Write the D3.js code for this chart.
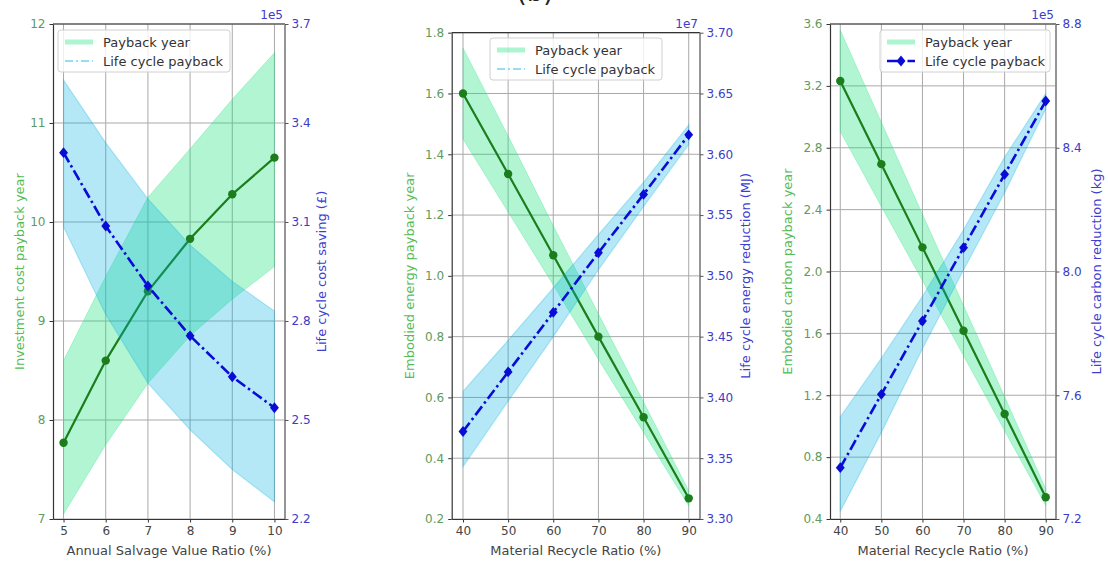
<!DOCTYPE html>
<html>
<head>
<meta charset="utf-8">
<script src="https://cdn.jsdelivr.net/npm/d3@7"></script>
<style>
  html, body { margin: 0; padding: 0; background: #fff; }
  svg { display: block; }
  text { font-family: "DejaVu Sans", sans-serif; }
</style>
</head>
<body>
<svg id="chart" width="1108" height="563"></svg>
<script>
// ---- (a) salvage value ratio vs. investment cost payback / life cycle saving ----
const salvageRatio = [5, 6, 7, 8, 9, 10];
const costPayback = [7.77, 8.60, 9.30, 9.83, 10.28, 10.65];
const costPaybackUpper = [8.60, 9.45, 10.25, 10.74, 11.24, 11.71];
const costPaybackLower = [7.05, 7.75, 8.37, 8.85, 9.22, 9.55];
// life cycle cost saving, in units of 1e5
const costSaving = [3.31, 3.088, 2.906, 2.755, 2.631, 2.537];
const costSavingUpper = [3.53, 3.34, 3.17, 3.03, 2.92, 2.83];
const costSavingLower = [3.085, 2.82, 2.612, 2.47, 2.35, 2.252];

// ---- (b) material recycle ratio vs. embodied energy ----
const recycleRatio = [40, 50, 60, 70, 80, 90];
const energyPayback = [1.60, 1.335, 1.068, 0.80, 0.535, 0.268];
const energyPaybackUpper = [1.75, 1.46, 1.165, 0.875, 0.585, 0.293];
const energyPaybackLower = [1.45, 1.21, 0.97, 0.725, 0.485, 0.243];
// life cycle energy reduction, in units of 1e7
const energyReduction = [3.372, 3.421, 3.470, 3.519, 3.567, 3.616];
const energyReductionUpper = [3.405, 3.447, 3.490, 3.534, 3.577, 3.624];
const energyReductionLower = [3.343, 3.397, 3.450, 3.505, 3.557, 3.608];

// ---- (c) material recycle ratio vs. embodied carbon ----
const carbonPayback = [3.232, 2.694, 2.156, 1.617, 1.079, 0.541];
const carbonPaybackUpper = [3.56, 2.965, 2.37, 1.78, 1.19, 0.595];
const carbonPaybackLower = [2.905, 2.42, 1.94, 1.455, 0.97, 0.487];
// life cycle carbon reduction, in units of 1e5
const carbonReduction = [7.366, 7.603, 7.840, 8.077, 8.314, 8.551];
const carbonReductionUpper = [7.53, 7.72, 7.92, 8.135, 8.37, 8.575];
const carbonReductionLower = [7.225, 7.48, 7.75, 8.005, 8.255, 8.525];

// tick values
const ticksSalvage = [5, 6, 7, 8, 9, 10];
const ticksRecycle = [40, 50, 60, 70, 80, 90];
const ticksCostPayback = [7, 8, 9, 10, 11, 12];
const ticksCostSaving = [2.2, 2.5, 2.8, 3.1, 3.4, 3.7];
const ticksEnergyPayback = [0.2, 0.4, 0.6, 0.8, 1.0, 1.2, 1.4, 1.6, 1.8];
const ticksEnergyReduction = [3.30, 3.35, 3.40, 3.45, 3.50, 3.55, 3.60, 3.65, 3.70];
const ticksCarbonPayback = [0.4, 0.8, 1.2, 1.6, 2.0, 2.4, 2.8, 3.2, 3.6];
const ticksCarbonReduction = [7.2, 7.6, 8.0, 8.4, 8.8];

const svg = d3.select("#chart");

const C = {
  greenFill: "rgb(20,225,120)",
  greenFillOpacity: 0.33,
  blueFill: "rgb(0,175,225)",
  blueFillOpacity: 0.29,
  greenLine: "#1b7d1b",
  blueLine: "#0b0bd6",
  grid: "#a9a9a9",
  leftTick: "#5f9a5f",
  leftLabel: "#55bb55",
  rightTick: "#3c3cc8",
  rightLabel: "#3d3dd0",
  xTick: "#444",
  spine: "#333"
};

// panel title, sitting above the top edge
svg.append("text").attr("x", 535).attr("y", 1).attr("text-anchor", "middle")
  .attr("font-size", 26).attr("fill", "#222").text("(b)");

function drawPanel(p) {
  const x = d3.scaleLinear().domain(p.xDomain).range([p.left, p.right]);
  const yL = d3.scaleLinear().domain(p.yLDomain).range([p.bottom, p.top]);
  const yR = d3.scaleLinear().domain(p.yRDomain).range([p.bottom, p.top]);
  const g = svg.append("g");

  // grid
  g.append("g").selectAll("line").data(p.xTicks).join("line")
    .attr("x1", d => x(d)).attr("x2", d => x(d))
    .attr("y1", p.top).attr("y2", p.bottom)
    .attr("stroke", C.grid).attr("stroke-width", 1);
  g.append("g").selectAll("line").data(p.yLTicks).join("line")
    .attr("x1", p.left).attr("x2", p.right)
    .attr("y1", d => yL(d)).attr("y2", d => yL(d))
    .attr("stroke", C.grid).attr("stroke-width", 1);

  const idx = d3.range(p.xs.length);

  // primary: payback year band and line
  const areaL = d3.area().x(i => x(p.xs[i]))
    .y0(i => yL(p.lLower[i])).y1(i => yL(p.lUpper[i]));
  g.append("path").attr("d", areaL(idx))
    .attr("fill", C.greenFill).attr("fill-opacity", C.greenFillOpacity)
    .attr("stroke", C.greenFill).attr("stroke-opacity", C.greenFillOpacity * 0.8)
    .attr("stroke-width", 1);
  const lineL = d3.line().x(i => x(p.xs[i])).y(i => yL(p.lVals[i]));
  g.append("path").attr("d", lineL(idx)).attr("fill", "none")
    .attr("stroke", C.greenLine).attr("stroke-width", 2.2);
  g.append("g").selectAll("circle").data(idx).join("circle")
    .attr("cx", i => x(p.xs[i])).attr("cy", i => yL(p.lVals[i])).attr("r", 4.2)
    .attr("fill", C.greenLine);

  // secondary: life cycle band and line
  const areaR = d3.area().x(i => x(p.xs[i]))
    .y0(i => yR(p.rLower[i])).y1(i => yR(p.rUpper[i]));
  g.append("path").attr("d", areaR(idx))
    .attr("fill", C.blueFill).attr("fill-opacity", C.blueFillOpacity)
    .attr("stroke", C.blueFill).attr("stroke-opacity", C.blueFillOpacity * 0.9)
    .attr("stroke-width", 1.2);
  const lineR = d3.line().x(i => x(p.xs[i])).y(i => yR(p.rVals[i]));
  g.append("path").attr("d", lineR(idx)).attr("fill", "none")
    .attr("stroke", C.blueLine).attr("stroke-width", 2.6)
    .attr("stroke-dasharray", "11,3.5,2.5,3.5");
  const diamond = d3.symbol().type(d3.symbolDiamond2).size(62);
  g.append("g").selectAll("path").data(idx).join("path")
    .attr("d", diamond)
    .attr("transform", i => `translate(${x(p.xs[i])},${yR(p.rVals[i])}) scale(0.9,1.1)`)
    .attr("fill", C.blueLine);

  // spines
  g.append("line").attr("x1", p.left).attr("x2", p.right).attr("y1", p.top).attr("y2", p.top)
    .attr("stroke", C.spine).attr("stroke-width", 1.2);
  g.append("line").attr("x1", p.right).attr("x2", p.right).attr("y1", p.top).attr("y2", p.bottom)
    .attr("stroke", "#8a8a8a").attr("stroke-width", 1.8);

  // axes
  const ax = g.append("g").attr("transform", `translate(0,${p.bottom})`)
    .call(d3.axisBottom(x).tickValues(p.xTicks).tickFormat(d3.format("d")).tickSize(3.5).tickSizeOuter(0).tickPadding(4));
  ax.select(".domain").attr("stroke", C.spine).attr("stroke-width", 1.2);
  ax.selectAll(".tick line").attr("stroke", C.spine);
  ax.selectAll("text").attr("fill", C.xTick).attr("font-size", 12).attr("font-family", "DejaVu Sans");

  const ayL = g.append("g").attr("transform", `translate(${p.left},0)`)
    .call(d3.axisLeft(yL).tickValues(p.yLTicks).tickFormat(d3.format(p.yLFormat)).tickSize(3.5).tickSizeOuter(0).tickPadding(4));
  ayL.select(".domain").attr("stroke", C.spine).attr("stroke-width", 1.2);
  ayL.selectAll(".tick line").attr("stroke", C.spine);
  ayL.selectAll("text").attr("fill", C.leftTick).attr("font-size", 12).attr("font-family", "DejaVu Sans");

  const ayR = g.append("g").attr("transform", `translate(${p.right},0)`)
    .call(d3.axisRight(yR).tickValues(p.yRTicks).tickFormat(d3.format(p.yRFormat)).tickSize(3.5).tickSizeOuter(0).tickPadding(3));
  ayR.select(".domain").remove();
  ayR.selectAll(".tick line").attr("stroke", "#555");
  ayR.selectAll("text").attr("fill", C.rightTick).attr("font-size", 12).attr("font-family", "DejaVu Sans");

  // offset text
  g.append("text").attr("x", p.right - 2).attr("y", p.top - 5).attr("text-anchor", "end")
    .attr("font-size", 12).attr("fill", C.rightTick).text(p.offset);

  // axis labels
  const midY = (p.top + p.bottom) / 2;
  g.append("text").attr("transform", `translate(${p.leftLabelX},${midY}) rotate(-90)`)
    .attr("text-anchor", "middle").attr("font-size", 13).attr("fill", C.leftLabel).text(p.leftLabel);
  g.append("text").attr("transform", `translate(${p.rightLabelX},${midY}) rotate(-90)`)
    .attr("text-anchor", "middle").attr("font-size", 13).attr("fill", C.rightLabel).text(p.rightLabel);
  g.append("text").attr("x", (p.left + p.right) / 2).attr("y", 555)
    .attr("text-anchor", "middle").attr("font-size", 13).attr("fill", "#444").text(p.xLabel);

  // legend
  const L = p.legend;
  const lg = g.append("g").attr("transform", `translate(${L.x},${L.y})`);
  lg.append("rect").attr("width", L.w).attr("height", 42).attr("rx", 3)
    .attr("fill", "#fff").attr("fill-opacity", 0.8).attr("stroke", "#d0d0d0");
  lg.append("line").attr("x1", 7).attr("x2", 35).attr("y1", 12).attr("y2", 12)
    .attr("stroke", C.greenFill).attr("stroke-opacity", 0.35).attr("stroke-width", 5);
  lg.append("text").attr("x", 45).attr("y", 16.5).attr("font-size", 13).attr("fill", "#333").text("Payback year");
  if (L.darkSecond) {
    lg.append("line").attr("x1", 7).attr("x2", 35).attr("y1", 31).attr("y2", 31)
      .attr("stroke", C.blueLine).attr("stroke-width", 2.6).attr("stroke-dasharray", "11,3.5,2.5,3.5");
    lg.append("path").attr("d", diamond).attr("transform", "translate(21,31) scale(0.9,1.1)").attr("fill", C.blueLine);
  } else {
    lg.append("line").attr("x1", 7).attr("x2", 35).attr("y1", 31).attr("y2", 31)
      .attr("stroke", C.blueFill).attr("stroke-opacity", 0.55).attr("stroke-width", 1.5)
      .attr("stroke-dasharray", "8,3,2,3");
  }
  lg.append("text").attr("x", 45).attr("y", 35.5).attr("font-size", 13).attr("fill", "#333").text("Life cycle payback");
}

drawPanel({
  left: 53, right: 285, top: 24, bottom: 519,
  xDomain: [4.75, 10.25], yLDomain: [7, 12], yRDomain: [2.2, 3.7],
  xs: salvageRatio,
  lVals: costPayback, lUpper: costPaybackUpper, lLower: costPaybackLower,
  rVals: costSaving, rUpper: costSavingUpper, rLower: costSavingLower,
  xTicks: ticksSalvage, yLTicks: ticksCostPayback, yRTicks: ticksCostSaving,
  yLFormat: "d", yRFormat: ".1f", offset: "1e5",
  leftLabel: "Investment cost payback year", leftLabelX: 24,
  rightLabel: "Life cycle cost saving (£)", rightLabelX: 326,
  xLabel: "Annual Salvage Value Ratio (%)",
  legend: { x: 58, y: 30, w: 172, darkSecond: false }
});

drawPanel({
  left: 451.7, right: 700, top: 32.7, bottom: 519,
  xDomain: [37.5, 92.5], yLDomain: [0.2, 1.8], yRDomain: [3.30, 3.70],
  xs: recycleRatio,
  lVals: energyPayback, lUpper: energyPaybackUpper, lLower: energyPaybackLower,
  rVals: energyReduction, rUpper: energyReductionUpper, rLower: energyReductionLower,
  xTicks: ticksRecycle, yLTicks: ticksEnergyPayback, yRTicks: ticksEnergyReduction,
  yLFormat: ".1f", yRFormat: ".2f", offset: "1e7",
  leftLabel: "Embodied energy payback year", leftLabelX: 414,
  rightLabel: "Life cycle energy reduction (MJ)", rightLabelX: 750,
  xLabel: "Material Recycle Ratio (%)",
  legend: { x: 490, y: 38, w: 172, darkSecond: false }
});

drawPanel({
  left: 830, right: 1056, top: 24, bottom: 519,
  xDomain: [37.5, 92.5], yLDomain: [0.4, 3.6], yRDomain: [7.2, 8.8],
  xs: recycleRatio,
  lVals: carbonPayback, lUpper: carbonPaybackUpper, lLower: carbonPaybackLower,
  rVals: carbonReduction, rUpper: carbonReductionUpper, rLower: carbonReductionLower,
  xTicks: ticksRecycle, yLTicks: ticksCarbonPayback, yRTicks: ticksCarbonReduction,
  yLFormat: ".1f", yRFormat: ".1f", offset: "1e5",
  leftLabel: "Embodied carbon payback year", leftLabelX: 792,
  rightLabel: "Life cycle carbon reduction (kg)", rightLabelX: 1101,
  xLabel: "Material Recycle Ratio (%)",
  legend: { x: 880, y: 30, w: 170, darkSecond: true }
});
</script>
</body>
</html>
